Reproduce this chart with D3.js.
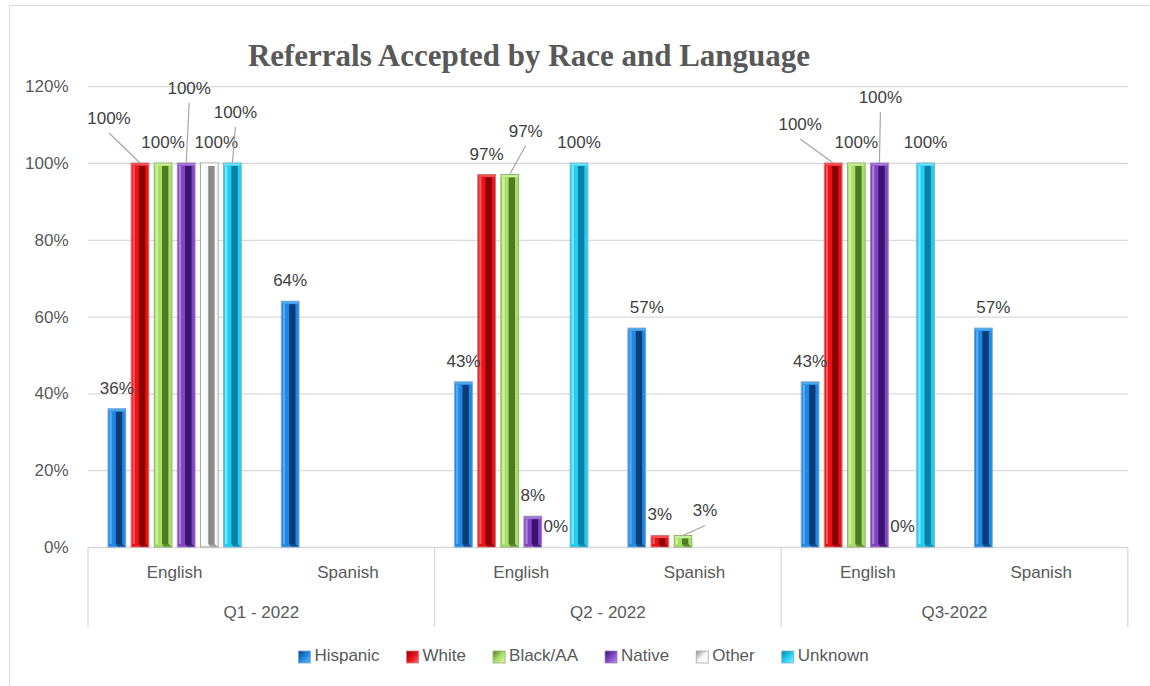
<!DOCTYPE html>
<html>
<head>
<meta charset="utf-8">
<script src="https://cdn.jsdelivr.net/npm/d3@7"></script>
<style>
  html, body { margin: 0; padding: 0; background: #fff; }
  svg { display: block; }
  text { font-family: "Liberation Sans", Arial, sans-serif; }
  text.title { font-family: "Liberation Serif", "Times New Roman", serif; }
</style>
</head>
<body>
<svg id="chart" width="1150" height="686"></svg>
<script>
// ---- data ----
const quarters = ["Q1 - 2022", "Q2 - 2022", "Q3-2022"];
const languages = ["English", "Spanish"];
const seriesNames = ["Hispanic", "White", "Black/AA", "Native", "Other", "Unknown"];
// one value per quarter/language slot: Q1 Eng, Q1 Spa, Q2 Eng, Q2 Spa, Q3 Eng, Q3 Spa
const hispanic = [36, 64, 43, 57, 43, 57];
const white    = [100, null, 97, 3, 100, null];
const blackAA  = [100, null, 97, 3, 100, null];
const native   = [100, null, 8, null, 100, null];
const other    = [100, null, 0, null, 0, null];
const unknown  = [100, null, 100, null, 100, null];
const yTicks = [0, 20, 40, 60, 80, 100, 120];

const seriesValues = [hispanic, white, blackAA, native, other, unknown];

// bar shading per series: main body, inner dark stripe, highlight, outline
const palette = {
  "Hispanic": { main: "#1f88e2", dark: "#0b3c78", light: "#63b6f5", edge: "#7aa6d0" },
  "White":    { main: "#ea1119", dark: "#8a0000", light: "#ff6a6a", edge: "#cf7a7a" },
  "Black/AA": { main: "#a9df66", dark: "#4d7a22", light: "#d8f6ae", edge: "#93b173" },
  "Native":   { main: "#8144c6", dark: "#3a126f", light: "#b690e2", edge: "#9a88b0" },
  "Other":    { main: "#f7f7f7", dark: "#8a8a8a", light: "#ffffff", edge: "#a6a6a6" },
  "Unknown":  { main: "#1fcef3", dark: "#0c7ea4", light: "#92ecff", edge: "#79b6c8" }
};

// hand-placed data labels (offset from default spot above the bar)
const labelNudge = {
  "0|White":    { dx: -31, dy: -24, leader: true },
  "0|Native":   { dx: 3,   dy: -54, leader: true },
  "0|Other":    { dx: 7,   dy: 0,   leader: false },
  "0|Unknown":  { dx: 3,   dy: -30, leader: true },
  "2|Black/AA": { dx: 16,  dy: -23, leader: true },
  "3|Hispanic": { dx: 10,  dy: 0,   leader: false },
  "3|Black/AA": { dx: 22,  dy: -4,  leader: true },
  "4|White":    { dx: -33, dy: -18, leader: true },
  "4|Native":   { dx: 1,   dy: -45, leader: true },
  "5|Hispanic": { dx: 10,  dy: 0,   leader: false }
};

// ---- layout ----
const svg = d3.select("#chart");
const plot = { left: 88, right: 1127.8, top: 86.2, bottom: 547 };

// chart frame
svg.append("rect")
  .attr("x", 9.5).attr("y", 5.5).attr("width", 1160).attr("height", 700)
  .attr("fill", "#fff").attr("stroke", "#d9d9d9").attr("stroke-width", 1);

const slots = d3.range(quarters.length * languages.length);
const x = d3.scaleBand().domain(slots).range([plot.left, plot.right]).padding(0);
const xs = d3.scaleBand().domain(seriesNames).range([0, x.bandwidth()])
  .paddingInner(0.234).paddingOuter(0.867);
const y = d3.scaleLinear().domain([0, 120]).range([plot.bottom, plot.top]);

// gridlines
const grid = svg.append("g").attr("transform", `translate(${plot.left},0)`)
  .call(d3.axisLeft(y).tickValues(yTicks).tickSize(-(plot.right - plot.left)).tickFormat(""));
grid.select(".domain").remove();
grid.selectAll(".tick line").attr("stroke", "#d9d9d9").attr("stroke-width", 1.3);

// y tick labels
const yAxis = svg.append("g").attr("transform", `translate(68.5,0)`)
  .call(d3.axisLeft(y).tickValues(yTicks).tickSize(0).tickPadding(0).tickFormat(d => d + "%"));
yAxis.select(".domain").remove();
yAxis.selectAll("text")
  .attr("font-family", null)
  .attr("font-size", 17).attr("fill", "#595959");

// category axis: group separators and labels
const groupEdges = d3.range(quarters.length + 1).map(i =>
  i < quarters.length ? x(i * 2) : plot.right);
svg.append("g").selectAll("line").data(groupEdges).join("line")
  .attr("x1", d => d).attr("x2", d => d)
  .attr("y1", plot.bottom).attr("y2", 627)
  .attr("stroke", "#d9d9d9").attr("stroke-width", 1.3);

svg.append("g").selectAll("text").data(slots).join("text")
  .attr("x", d => x(d) + x.bandwidth() / 2)
  .attr("y", 574)
  .attr("text-anchor", "middle").attr("dominant-baseline", "middle")
  .attr("font-size", 17).attr("fill", "#595959")
  .text(d => languages[d % languages.length]);

svg.append("g").selectAll("text").data(quarters).join("text")
  .attr("x", (d, i) => x(i * 2) + x.bandwidth())
  .attr("y", 613.5)
  .attr("text-anchor", "middle").attr("dominant-baseline", "middle")
  .attr("font-size", 17).attr("fill", "#595959")
  .text(d => d);

// ---- bars ----
const bars = [];
slots.forEach(s => {
  seriesNames.forEach((name, k) => {
    const v = seriesValues[k][s];
    if (v !== null && v !== undefined) bars.push({ slot: s, name, value: v });
  });
});

const barG = svg.append("g");
bars.forEach(b => {
  const c = palette[b.name];
  const bx = x(b.slot) + xs(b.name);
  const bw = xs.bandwidth();
  const top = y(b.value);
  const h = plot.bottom - top;
  if (h <= 0.5) return;
  const g = barG.append("g");
  g.append("rect").attr("x", bx).attr("y", top).attr("width", bw).attr("height", h)
    .attr("fill", c.main).attr("stroke", c.edge).attr("stroke-width", 1);
  const inset = Math.min(3, h / 3);
  // left highlight
  g.append("rect").attr("x", bx + 1.5).attr("y", top + inset).attr("width", 2.2)
    .attr("height", Math.max(0, h - 2 * inset)).attr("fill", c.light).attr("opacity", 0.8);
  // inner dark stripe
  g.append("rect").attr("x", bx + bw * 0.44).attr("y", top + inset)
    .attr("width", bw * 0.36).attr("height", Math.max(0, h - 2 * inset))
    .attr("fill", c.dark);
  // top bevel
  g.append("rect").attr("x", bx + 0.5).attr("y", top + 0.5).attr("width", bw - 1)
    .attr("height", Math.min(2, h / 3)).attr("fill", c.light).attr("opacity", 0.7);
  // bottom-right bevel
  if (h > 6) {
    g.append("path")
      .attr("d", `M${bx + bw * 0.44},${plot.bottom - inset} L${bx + bw * 0.8},${plot.bottom - inset} L${bx + bw - 0.5},${plot.bottom - 0.5} L${bx + bw * 0.55},${plot.bottom - 0.5}Z`)
      .attr("fill", c.dark).attr("opacity", 0.85);
  }
});

// ---- data labels ----
const lblG = svg.append("g");
bars.forEach(b => {
  const cx = x(b.slot) + xs(b.name) + xs.bandwidth() / 2;
  const top = y(b.value);
  const n = labelNudge[b.slot + "|" + b.name] || { dx: 0, dy: 0, leader: false };
  const lx = cx + n.dx, ly = top - 15 + n.dy;
  if (n.leader) {
    lblG.append("line")
      .attr("x1", lx).attr("y1", ly + 9)
      .attr("x2", cx).attr("y2", top)
      .attr("stroke", "#a6a6a6").attr("stroke-width", 1.2);
  }
  lblG.append("text")
    .attr("x", lx).attr("y", ly)
    .attr("text-anchor", "middle")
    .attr("font-size", 17).attr("fill", "#404040")
    .text(b.value + "%");
});

// ---- title ----
svg.append("text")
  .attr("class", "title")
  .attr("x", 529).attr("y", 66)
  .attr("text-anchor", "middle")
  .attr("font-weight", "bold").attr("font-size", 31)
  .attr("fill", "#595959")
  .text("Referrals Accepted by Race and Language");

// ---- legend ----
const legendY = 657;
const legend = svg.append("g");
const defs = svg.append("defs");
const items = [];
seriesNames.forEach((name, i) => {
  const g = legend.append("g");
  const c = palette[name];
  const gid = "lg" + i;
  const grad = defs.append("linearGradient").attr("id", gid)
    .attr("x1", "0").attr("y1", "0").attr("x2", "1").attr("y2", "1");
  grad.append("stop").attr("offset", "0").attr("stop-color", c.dark);
  grad.append("stop").attr("offset", "0.5").attr("stop-color", c.main);
  grad.append("stop").attr("offset", "1").attr("stop-color", c.light);
  g.append("rect").attr("x", 0).attr("y", -6).attr("width", 12).attr("height", 12)
    .attr("fill", `url(#${gid})`).attr("stroke", c.edge).attr("stroke-width", 0.8);
  const t = g.append("text").attr("x", 16).attr("y", 0)
    .attr("dominant-baseline", "middle")
    .attr("font-size", 17).attr("fill", "#595959").text(name);
  const w = 16 + t.node().getComputedTextLength();
  items.push({ g, w });
});
const gap = 27;
const total = d3.sum(items, d => d.w) + gap * (items.length - 1);
let cur = 583.5 - total / 2;
items.forEach(it => {
  it.g.attr("transform", `translate(${cur},${legendY})`);
  cur += it.w + gap;
});
</script>
</body>
</html>
